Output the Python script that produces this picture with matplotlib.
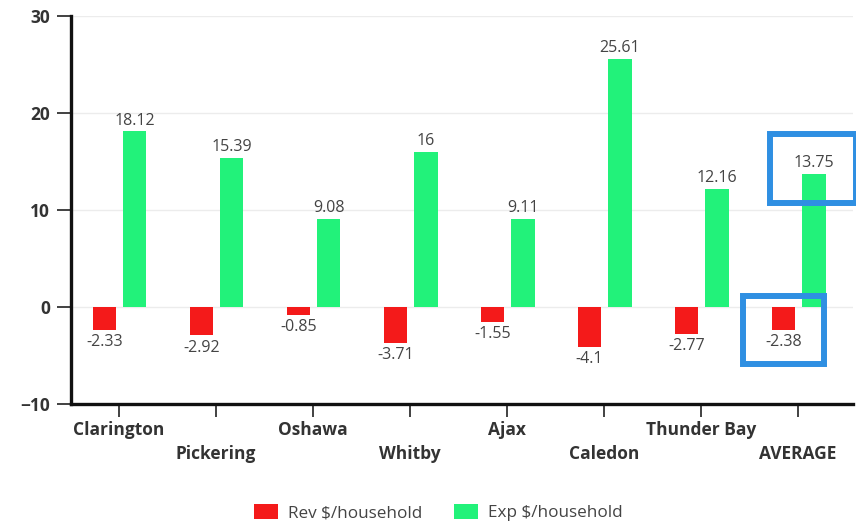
import matplotlib.pyplot as plt
import numpy as np
from matplotlib.patches import Rectangle
from matplotlib.transforms import ScaledTranslation

# Ciudades y valores por hogar
ciudades = ["Clarington", "Pickering", "Oshawa", "Whitby", "Ajax", "Caledon", "Thunder Bay", "AVERAGE"]
rev_hogar = [-2.33, -2.92, -0.85, -3.71, -1.55, -4.1, -2.77, -2.38]
exp_hogar = [18.12, 15.39, 9.08, 16, 9.11, 25.61, 12.16, 13.75]

rojo = "#f41a1a"
verde = "#22f27a"
azul = "#2f8fe2"
texto = "#333333"

plt.rcParams['font.family'] = ['Open Sans', 'DejaVu Sans']

fig = plt.figure(figsize=(8.56, 5.24), dpi=100)
ax = fig.add_axes([0.083, 0.229, 0.914, 0.740])

x = np.arange(len(ciudades))
ancho = 0.245
barras_rev = ax.bar(x - 0.15, rev_hogar, ancho, color=rojo, label="Rev $/household", zorder=3)
barras_exp = ax.bar(x + 0.16, exp_hogar, ancho, color=verde, label="Exp $/household", zorder=3)

# Etiquetas con el valor de cada barra
for barras, valores in [(barras_rev, rev_hogar), (barras_exp, exp_hogar)]:
    for b, v in zip(barras, valores):
        cx = b.get_x() + b.get_width() / 2
        if v >= 0:
            ax.annotate(f"{v:g}", (cx, v), xytext=(0, 2), textcoords="offset points",
                        ha="center", va="bottom", fontsize=11.5, color="#444444")
        else:
            ax.annotate(f"{v:g}", (cx, v), xytext=(0, -3), textcoords="offset points",
                        ha="center", va="top", fontsize=11.5, color="#444444")

ax.set_ylim(-10, 30)
ax.set_xlim(-0.495, 7.57)
ax.set_yticks([-10, 0, 10, 20, 30])
ax.yaxis.grid(True, color="#ececec", linewidth=1, zorder=0)
ax.set_axisbelow(True)

for lado in ["top", "right"]:
    ax.spines[lado].set_visible(False)
for lado in ["left", "bottom"]:
    ax.spines[lado].set_linewidth(2.4)
    ax.spines[lado].set_color("#111111")

ax.tick_params(axis="y", length=10, width=1.3, color=texto, pad=5,
               labelsize=12.5, labelcolor=texto)
ax.tick_params(axis="x", length=9, width=1.3, color=texto, pad=3,
               labelsize=12.5, labelcolor=texto)
for lbl in ax.get_yticklabels():
    lbl.set_fontweight("bold")

ax.set_xticks(x)
ax.set_xticklabels(ciudades, fontweight="bold")
# Etiquetas alternas en una segunda fila
for i, lbl in enumerate(ax.get_xticklabels()):
    if i % 2 == 1:
        lbl.set_transform(lbl.get_transform() + ScaledTranslation(0, -0.245, fig.dpi_scale_trans))

# Recuadros que resaltan el promedio
i_prom = ciudades.index("AVERAGE")
cx_exp = barras_exp[i_prom].get_x() + ancho / 2
cx_rev = barras_rev[i_prom].get_x() + ancho / 2
ax.add_patch(Rectangle((cx_exp - 0.45, exp_hogar[i_prom] - 3.0), 0.89, 7.1,
                       fill=False, edgecolor=azul, linewidth=4.3, zorder=5, clip_on=False))
ax.add_patch(Rectangle((cx_rev - 0.42, rev_hogar[i_prom] - 3.45), 0.84, 7.0,
                       fill=False, edgecolor=azul, linewidth=4.3, zorder=5, clip_on=False))

fig.legend(handles=[barras_rev, barras_exp], loc="lower center", bbox_to_anchor=(0.512, -0.024),
           ncol=2, frameon=False, fontsize=12.3, handlelength=1.4, handleheight=1.0,
           columnspacing=1.9, handletextpad=0.55, labelcolor="#444444")

fig.savefig("out.png", dpi=100)
